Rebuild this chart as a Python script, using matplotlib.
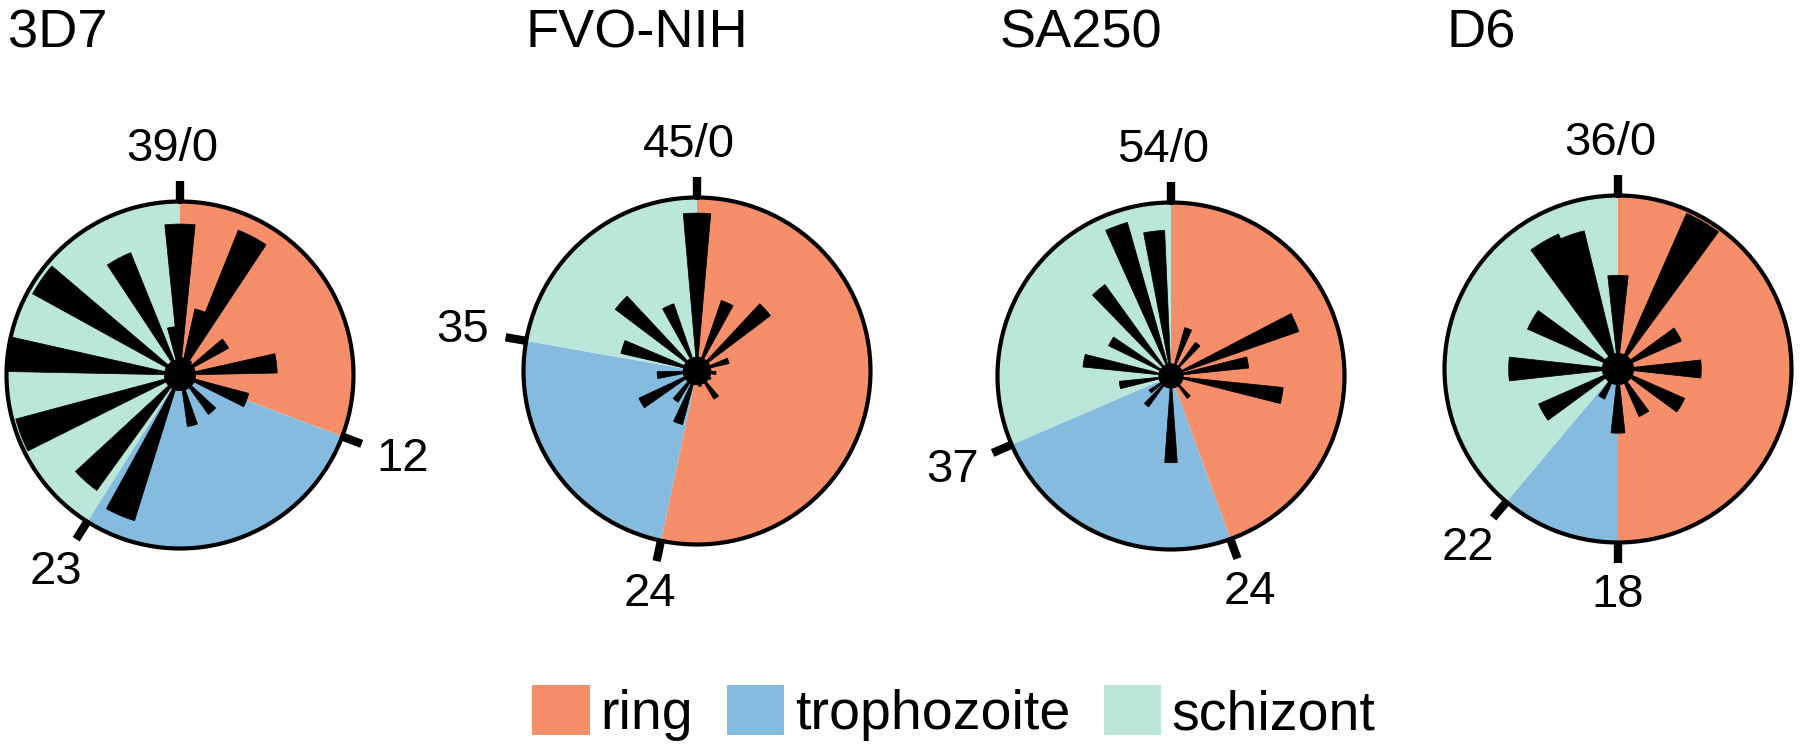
import matplotlib
matplotlib.use("Agg")
import numpy as np
import matplotlib.pyplot as plt
from matplotlib.patches import Patch

plt.rcParams['font.family'] = ['Liberation Sans', 'DejaVu Sans']

strains = ["3D7", "FVO-NIH", "SA250", "D6"]
periods = [39, 45, 54, 36]
ring_end = [12, 24, 24, 18]
troph_end = [23, 35, 37, 22]
phase_names = ["ring", "trophozoite", "schizont"]
phase_colors = ["#F58E69", "#86BBE0", "#BAE7DA"]

# relative bar heights per hour of the cycle (fraction of circle radius)
vals_3d7 = [0.87, 0.10, 0.39, 0.90, 0.10, 0.09, 0.32, 0.09, 0.09, 0.56,
            0.09, 0.09, 0.41, 0.09, 0.09, 0.28, 0.09, 0.09, 0.30, 0.09,
            0.09, 0.09, 0.88, 0.09, 0.82, 0.09, 0.09, 0.98, 0.09, 0.09,
            1.00, 0.09, 0.09, 0.97, 0.09, 0.09, 0.76, 0.09, 0.28]
vals_fvo = [0.91, 0.08, 0.08, 0.43, 0.08, 0.08, 0.53, 0.08, 0.08, 0.19,
            0.08, 0.08, 0.11, 0.08, 0.08, 0.09, 0.08, 0.08, 0.19, 0.08,
            0.08, 0.09, 0.08, 0.08, 0.08, 0.32, 0.08, 0.21, 0.08, 0.08,
            0.37, 0.08, 0.08, 0.23, 0.08, 0.08, 0.45, 0.08, 0.08, 0.59,
            0.08, 0.08, 0.41, 0.08, 0.08]
vals_sa250 = [0.07, 0.07, 0.07, 0.29, 0.07, 0.07, 0.24, 0.07, 0.07, 0.07,
              0.78, 0.07, 0.45, 0.07, 0.07, 0.65, 0.07, 0.07, 0.07, 0.07,
              0.07, 0.16, 0.07, 0.07, 0.07, 0.07, 0.07, 0.50, 0.07, 0.07,
              0.07, 0.07, 0.07, 0.22, 0.07, 0.15, 0.07, 0.07, 0.07, 0.30,
              0.07, 0.07, 0.51, 0.07, 0.07, 0.40, 0.07, 0.07, 0.65, 0.07,
              0.07, 0.92, 0.07, 0.84]
vals_d6 = [0.54, 0.09, 0.09, 0.98, 0.09, 0.09, 0.40, 0.09, 0.09, 0.48,
           0.09, 0.09, 0.42, 0.09, 0.09, 0.30, 0.09, 0.09, 0.37, 0.09,
           0.09, 0.19, 0.09, 0.09, 0.50, 0.09, 0.09, 0.63, 0.09, 0.09,
           0.57, 0.09, 0.09, 0.85, 0.82, 0.09]
all_vals = [vals_3d7, vals_fvo, vals_sa250, vals_d6]

W, H = 1800, 750
centers_x = [180, 697, 1171, 1618]
centers_y = [375, 371, 376, 369]
R = 173.5
bar_width_h = 1.25

fig = plt.figure(figsize=(W / 100, H / 100), dpi=100)

for i, name in enumerate(strains):
    cx, cy = centers_x[i], centers_y[i]
    ax = fig.add_axes([(cx - R) / W, (H - cy - R) / H, 2 * R / W, 2 * R / H],
                      projection='polar')
    ax.set_theta_zero_location('N')
    ax.set_theta_direction(-1)
    P = periods[i]

    def to_rad(h, P=P):
        return 2 * np.pi * np.asarray(h, dtype=float) / P

    starts = [0, ring_end[i], troph_end[i]]
    ends = [ring_end[i], troph_end[i], P]
    ax.bar(to_rad(starts), [1, 1, 1], width=to_rad(ends) - to_rad(starts),
           align='edge', color=phase_colors, edgecolor='none', linewidth=0,
           zorder=1)

    vals = all_vals[i]
    hours = np.arange(len(vals))
    ax.bar(to_rad(hours), vals, width=to_rad(bar_width_h), align='center',
           color='black', edgecolor='black', linewidth=0.5, zorder=2)

    ax.set_ylim(0, 1)
    ax.set_xticks([])
    ax.set_yticks([])
    ax.grid(False)
    ax.spines['polar'].set_linewidth(3.0)
    ax.spines['polar'].set_zorder(5)
    ax.set_facecolor('none')

    tick_h = [0, ring_end[i], troph_end[i]]
    tick_lab = [f"{P}/0", str(ring_end[i]), str(troph_end[i])]
    for h, lab in zip(tick_h, tick_lab):
        t = float(to_rad(h))
        ax.plot([t, t], [0.99, 1.12], color='black', lw=6,
                solid_capstyle='butt', clip_on=False, zorder=6)
        rl = 1.30 + 0.075 * abs(np.sin(t))
        dx = -8 if h == 0 else 0
        ax.annotate(lab, xy=(t, rl), xytext=(dx, 0), textcoords='offset pixels',
                    ha='center', va='center', fontsize=34,
                    annotation_clip=False)

    fig.text((cx - R + 2) / W, 1 - 48 / H, name, fontsize=39,
             ha='left', va='baseline')

handles = [Patch(facecolor=c, edgecolor='none') for c in phase_colors]
fig.legend(handles, phase_names, loc='center', bbox_to_anchor=(0.53, 0.049),
           ncol=3, frameon=False, fontsize=40, handlelength=1.03,
           handleheight=1.0, handletextpad=0.2, columnspacing=0.6,
           borderpad=0, borderaxespad=0)

fig.savefig("out.png", dpi=100)
